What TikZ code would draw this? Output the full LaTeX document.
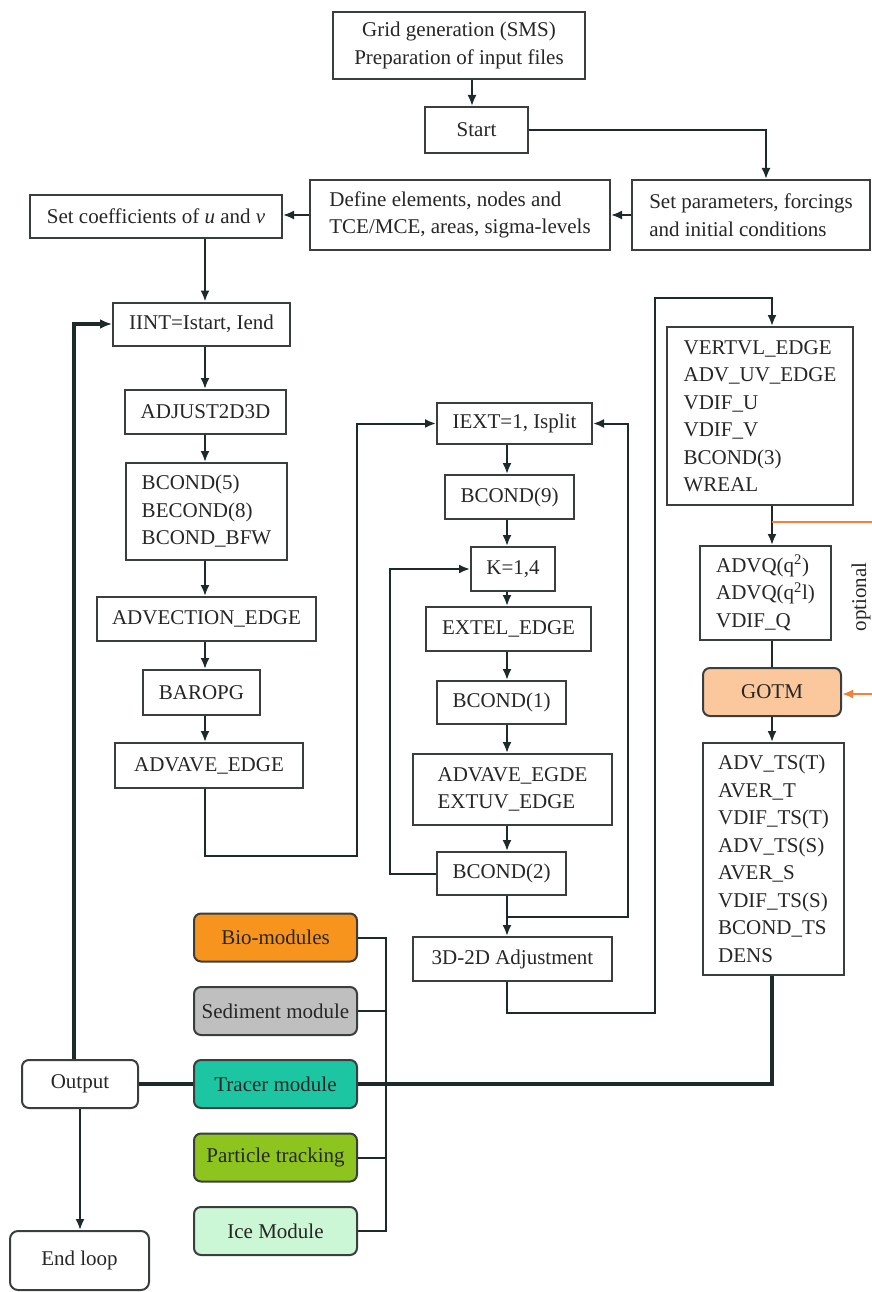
\documentclass[tikz,border=0pt]{standalone}
\usepackage{fontspec}
\setmainfont{Liberation Serif}
\usetikzlibrary{arrows.meta,calc}
\definecolor{linecol}{HTML}{1C2A2A}
\definecolor{bordercol}{HTML}{3A3F3E}
\definecolor{txtcol}{HTML}{262626}
\definecolor{biofill}{HTML}{F7941D}
\definecolor{sedfill}{HTML}{BFBFBF}
\definecolor{trcfill}{HTML}{1DC6A2}
\definecolor{parfill}{HTML}{8DC41E}
\definecolor{icefill}{HTML}{CBF7D6}
\definecolor{gotmfill}{HTML}{FAC89C}
\definecolor{orangeln}{HTML}{F0823C}
\begin{document}
\begin{tikzpicture}[x=1pt,y=-1pt,
  box/.style={draw=bordercol, line width=2pt, fill=white, inner sep=0pt, text=txtcol,
    font=\fontsize{21}{27.5}\selectfont, align=center},
  lbox/.style={box, align=left},
  modbox/.style={box, rounded corners=7pt, minimum width=163pt, minimum height=48pt},
  ln/.style={draw=linecol, line width=2pt},
  tip/.style={-{Latex[length=11pt,width=9pt]}},
  arr/.style={ln, tip},
  heavy/.style={draw=linecol, line width=3.6pt},
  heavyarr/.style={heavy, -{Latex[length=12pt,width=10pt]}},
  orln/.style={draw=orangeln, line width=2pt},
]
\useasboundingbox (0,0) rectangle (872,1292);

% column / route coordinates
\coordinate (xT) at (472,0);
\coordinate (xS) at (766,0);
\coordinate (cL) at (205,0);
\coordinate (cM) at (507,0);
\coordinate (cR) at (772,0);
\coordinate (xLoop) at (74,0);
\coordinate (xK) at (390,0);
\coordinate (xI) at (628,0);
\coordinate (xO) at (655,0);
\coordinate (xB) at (386,0);
\coordinate (yJ) at (0,917);
\coordinate (yO1) at (0,1013);
\coordinate (yO2) at (0,298);
\coordinate (pA) at (357,856);
\coordinate (or1) at (772,522);
\coordinate (or2) at (872,522);
\coordinate (or3) at (872,694);

% top
\node[box, minimum width=252pt, minimum height=67pt] (grid) at (459,45.5) {Grid generation (SMS)\\Preparation of input files};
\node[box, minimum width=103pt, minimum height=46pt] (start) at (476.5,130) {Start};
\node[lbox, minimum width=238pt, minimum height=70pt] (setp) at (751,215) {Set parameters, forcings\\and initial conditions};
\node[lbox, minimum width=300pt, minimum height=70pt] (define) at (460,215) {Define elements, nodes and\\TCE/MCE, areas, sigma-levels};
\node[box, minimum width=252pt, minimum height=43pt] (coeff) at (156,216.5) {Set coefficients of \textit{u} and \textit{v}};

% left column
\node[box, minimum width=177pt, minimum height=43pt] (iint) at (201.5,324) {IINT=Istart, Iend};
\node[box, minimum width=161pt, minimum height=44pt] (adjust) at (205.5,412) {ADJUST2D3D};
\node[lbox, minimum width=161pt, minimum height=97pt] (bcondf) at (206.5,511.5) {BCOND(5)\\BECOND(8)\\BCOND\_BFW};
\node[box, minimum width=219pt, minimum height=44pt] (advec) at (206.5,619) {ADVECTION\_EDGE};
\node[box, minimum width=117pt, minimum height=45pt] (baropg) at (201.5,692.5) {BAROPG};
\node[box, minimum width=188pt, minimum height=45pt] (advave) at (209,765.5) {ADVAVE\_EDGE};

% middle column
\node[box, minimum width=155pt, minimum height=41pt] (iext) at (514.5,423.5) {IEXT=1, Isplit};
\node[box, minimum width=129pt, minimum height=44pt] (bcondn) at (509.5,497) {BCOND(9)};
\node[box, minimum width=84pt, minimum height=44pt] (kk) at (513,569) {K=1,4};
\node[box, minimum width=165pt, minimum height=44pt] (extel) at (508.5,629) {EXTEL\_EDGE};
\node[box, minimum width=129pt, minimum height=43pt] (bcondo) at (501.5,702.5) {BCOND(1)};
\node[lbox, minimum width=199pt, minimum height=71pt] (advtwo) at (512.5,789.5) {ADVAVE\_EGDE\\EXTUV\_EDGE};
\node[box, minimum width=129pt, minimum height=43pt] (bcondt) at (501.5,873.5) {BCOND(2)};
\node[box, minimum width=199pt, minimum height=44pt] (adjthree) at (512.5,959) {3D-2D Adjustment};

% right column
\node[lbox, minimum width=186pt, minimum height=178pt] (vertvl) at (760,416) {VERTVL\_EDGE\\ADV\_UV\_EDGE\\VDIF\_U\\VDIF\_V\\BCOND(3)\\WREAL};
\node[lbox, minimum width=131pt, minimum height=94pt] (advq) at (765.5,593) {ADVQ(q\textsuperscript{2})\\ADVQ(q\textsuperscript{2}l)\\VDIF\_Q};
\node[box, rounded corners=7pt, fill=gotmfill, minimum width=138pt, minimum height=48pt] (gotm) at (772,692) {GOTM};
\node[lbox, minimum width=141pt, minimum height=232pt] (advts) at (773.5,859) {ADV\_TS(T)\\AVER\_T\\VDIF\_TS(T)\\ADV\_TS(S)\\AVER\_S\\VDIF\_TS(S)\\BCOND\_TS\\DENS};
\node[text=txtcol, font=\fontsize{21}{24}\selectfont, rotate=90, inner sep=0pt] (opt) at (861,597) {optional};

% modules
\node[modbox, fill=biofill] (bio) at (275.5,937.5) {Bio-modules};
\node[modbox, fill=sedfill] (sed) at (275.5,1011) {Sediment module};
\node[modbox, fill=trcfill] (trc) at (275.5,1084) {Tracer module};
\node[modbox, fill=parfill] (par) at (275.5,1157.5) {Particle tracking};
\node[modbox, fill=icefill] (ice) at (275.5,1231) {Ice Module};

\node[box, rounded corners=7pt, minimum width=116pt, minimum height=48pt] (output) at (80,1084) {Output};
\node[box, rounded corners=8pt, minimum width=139pt, minimum height=59pt] (endloop) at (79.5,1260.5) {End loop};

% connectors: top
\draw[arr] (grid.south -| xT) -- (start.north -| xT);
\draw[arr] (start.east) -| (setp.north -| xS);
\draw[arr] (setp.west) -- (define.east);
\draw[arr] (define.west) -- (define.west -| coeff.east);
\draw[arr] (coeff.south -| cL) -- (iint.north -| cL);

% left column
\draw[arr] (iint.south -| cL) -- (adjust.north -| cL);
\draw[arr] (adjust.south -| cL) -- (bcondf.north -| cL);
\draw[arr] (bcondf.south -| cL) -- (advec.north -| cL);
\draw[arr] (advec.south -| cL) -- (baropg.north -| cL);
\draw[arr] (baropg.south -| cL) -- (advave.north -| cL);
\draw[arr] (advave.south -| cL) |- (pA) |- (iext.west);

% middle column
\draw[arr] (iext.south -| cM) -- (bcondn.north -| cM);
\draw[arr] (bcondn.south -| cM) -- (kk.north -| cM);
\draw[arr] (kk.south -| cM) -- (extel.north -| cM);
\draw[arr] (extel.south -| cM) -- (bcondo.north -| cM);
\draw[arr] (bcondo.south -| cM) -- (advtwo.north -| cM);
\draw[arr] (advtwo.south -| cM) -- (bcondt.north -| cM);
\draw[arr] (bcondt.west) -- (bcondt.west -| xK) |- (kk.west);
\draw[arr] (bcondt.south -| cM) -- (adjthree.north -| cM);
\draw[arr] (cM |- yJ) -- (xI |- yJ) |- (iext.east);
\draw[arr] (adjthree.south -| cM) |- (xO |- yO1) |- (cR |- yO2) -- (vertvl.north -| cR);

% right column
\draw[arr] (vertvl.south -| cR) -- (advq.north -| cR);
\draw[ln] (advq.south -| cR) -- (gotm.north -| cR);
\draw[arr] (gotm.south -| cR) -- (advts.north -| cR);
\draw[orln] (or1) -- (or2);
\draw[orln, tip] (or3) -- (or3 -| gotm.east);

% modules bus
\draw[ln] (bio.east) -| (xB |- ice.east) -- (ice.east);
\draw[ln] (sed.east) -- (sed.east -| xB);
\draw[ln] (par.east) -- (par.east -| xB);

% heavy lines
\draw[heavy] (advts.south -| cR) |- (trc.east);
\draw[heavy] (output.east) -- (trc.west);
\draw[heavyarr] (output.north -| xLoop) |- (iint.west);
\draw[arr] (output.south) -- (output.south |- endloop.north);
\end{tikzpicture}
\end{document}
